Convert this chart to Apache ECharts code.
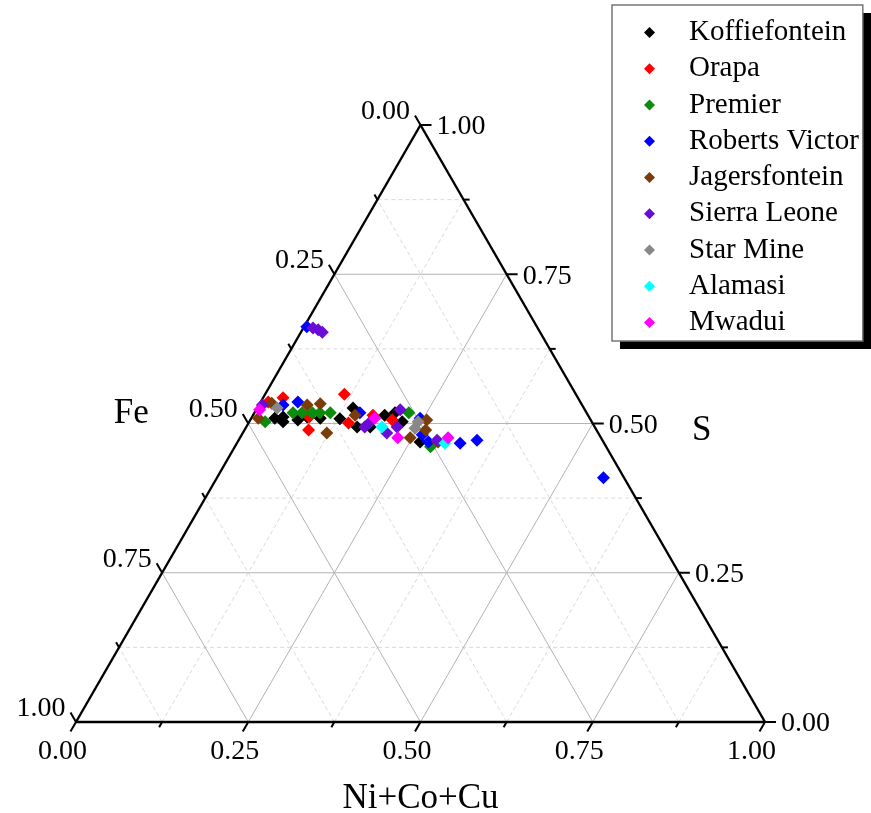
<!DOCTYPE html>
<html><head><meta charset="utf-8">
<script src="https://cdn.jsdelivr.net/npm/echarts@6/dist/echarts.min.js"></script>
<style>html,body{margin:0;padding:0;background:#fff}#c{width:871px;height:813px}</style>
</head><body><div id="c"></div>
<script>
// ---- data: each point is [Ni+Co+Cu, S]; Fe = 1 - Ni - S ----
const seriesNames = ['Koffiefontein','Orapa','Premier','Roberts Victor','Jagersfontein','Sierra Leone','Star Mine','Alamasi','Mwadui'];
const seriesColors = ['#000000','#ff0000','#0c8c0c','#0000ff','#7a3d0a','#6a0cd6','#888888','#00ffff','#ff00ff'];
const koffiefontein = [[0.034,0.509],[0.045,0.511],[0.049,0.503],[0.069,0.506],[0.080,0.511],[0.100,0.509],[0.129,0.508],[0.139,0.526],[0.161,0.494],[0.180,0.494],[0.191,0.514],[0.204,0.518],[0.222,0.503],[0.265,0.469]];
const orapa = [[0.011,0.536],[0.029,0.543],[0.083,0.511],[0.093,0.489],[0.115,0.549],[0.145,0.501],[0.174,0.514],[0.206,0.506]];
const premier = [[0.023,0.503],[0.056,0.518],[0.069,0.518],[0.084,0.518],[0.095,0.518],[0.110,0.518],[0.224,0.518],[0.284,0.461]];
const robertsVictor = [[0.004,0.662],[0.035,0.531],[0.054,0.536],[0.153,0.518],[0.245,0.509],[0.262,0.481],[0.277,0.469],[0.324,0.467],[0.346,0.472],[0.561,0.409]];
const jagersfontein = [[0.010,0.509],[0.017,0.534],[0.070,0.531],[0.088,0.533],[0.122,0.484],[0.148,0.514],[0.247,0.476],[0.256,0.506],[0.263,0.489],[0.291,0.469]];
const sierraLeone = [[0.014,0.660],[0.023,0.657],[0.031,0.653],[0.005,0.531],[0.172,0.494],[0.175,0.501],[0.209,0.484],[0.209,0.523],[0.219,0.494],[0.288,0.472]];
const starMine = [[0.029,0.526],[0.245,0.503],[0.246,0.492]];
const alamasi = [[0.197,0.494],[0.302,0.467]];
const mwadui = [[0.005,0.523],[0.179,0.509],[0.229,0.476],[0.302,0.476]];
const seriesData = [koffiefontein, orapa, premier, robertsVictor, jagersfontein, sierraLeone, starMine, alamasi, mwadui];

const tickValues = [0, 0.25, 0.5, 0.75, 1];
const tickLabels = ['0.00','0.25','0.50','0.75','1.00'];
const minorValues = [0.125, 0.375, 0.625, 0.875];
const axisTitles = { bottom: 'Ni+Co+Cu', left: 'Fe', right: 'S' };

// ---- ternary -> cartesian ----
const SQ = Math.sqrt(3) / 2;
function tern(ni, s) { return [ni + s / 2, s * SQ]; }

const FONT = '"Liberation Serif", "Times New Roman", serif';

function renderFrame(params, api) {
  const P = (ni, s) => api.coord(tern(ni, s));
  const children = [];
  const line = (a, b, style) => children.push({ type: 'line', shape: { x1: a[0], y1: a[1], x2: b[0], y2: b[1] }, style: style });
  const text = (t, x, y, size, align, vAlign) => children.push({ type: 'text', style: { text: t, x: x, y: y, fontSize: size, fontFamily: FONT, fill: '#000', align: align, verticalAlign: vAlign } });
  const minorStyle = { stroke: '#dadada', lineWidth: 1, lineDash: [4, 3] };
  const majorStyle = { stroke: '#b4b4b4', lineWidth: 1 };
  minorValues.forEach(v => {
    line(P(0, v), P(1 - v, v), minorStyle);
    line(P(v, 0), P(v, 1 - v), minorStyle);
    line(P(1 - v, 0), P(0, 1 - v), minorStyle);
  });
  tickValues.slice(1, 4).forEach(v => {
    line(P(0, v), P(1 - v, v), majorStyle);
    line(P(v, 0), P(v, 1 - v), majorStyle);
    line(P(1 - v, 0), P(0, 1 - v), majorStyle);
  });
  const edge = { stroke: '#000', lineWidth: 2.4 };
  line(P(0, 0), P(1, 0), edge);
  line(P(1, 0), P(0, 1), edge);
  line(P(0, 1), P(0, 0), edge);
  const tickStyle = { stroke: '#000', lineWidth: 2 };
  const doTicks = (vals, len, withLabels) => {
    vals.forEach((v, i) => {
      // bottom (Ni+Co+Cu)
      let p = P(v, 0), e = [p[0] - 0.5 * len, p[1] + SQ * len];
      line(p, e, tickStyle);
      if (withLabels) text(tickLabels[i], e[0] - 8, e[1] + 6, 28, 'center', 'top');
      // right (S)
      p = P(1 - v, v); e = [p[0] + len, p[1]];
      line(p, e, tickStyle);
      if (withLabels) text(tickLabels[i], e[0] + 5, e[1] + 2, 28, 'left', 'middle');
      // left (Fe)
      p = P(0, 1 - v); e = [p[0] - 0.5 * len, p[1] - SQ * len];
      line(p, e, tickStyle);
      if (withLabels) text(tickLabels[i], e[0] - 5, e[1] - 4, 28, 'right', 'middle');
    });
  };
  doTicks(minorValues, 6, false);
  doTicks(tickValues, 11, true);
  let m = P(0, 0.5);
  text(axisTitles.left, m[0] - 117, m[1] - 10, 35, 'center', 'middle');
  m = P(0.5, 0.5);
  text(axisTitles.right, m[0] + 109, m[1] + 7, 35, 'center', 'middle');
  m = P(0.5, 0);
  text(axisTitles.bottom, m[0], m[1] + 77, 35, 'center', 'middle');
  return { type: 'group', children: children };
}

const chart = echarts.init(document.getElementById('c'), null, { renderer: 'canvas' });
const series = [{
  type: 'custom', name: 'frame', coordinateSystem: 'cartesian2d', silent: true, z: 1,
  data: [[0, 0]], renderItem: renderFrame, clip: false
}];
seriesNames.forEach((name, i) => {
  series.push({
    type: 'scatter', name: name, symbol: 'diamond', symbolSize: 13, z: 5,
    itemStyle: { color: seriesColors[i], opacity: 1 },
    data: seriesData[i].map(d => tern(d[0], d[1]))
  });
});

chart.setOption({
  animation: false,
  backgroundColor: '#fff',
  grid: { left: 76, right: 106, top: 125, bottom: 91 },
  xAxis: { type: 'value', min: 0, max: 1, show: false },
  yAxis: { type: 'value', min: 0, max: SQ, show: false },
  graphic: [{
    type: 'rect', left: 620, top: 13, z: 0, silent: true,
    shape: { width: 251, height: 336 }, style: { fill: '#000' }
  }],
  legend: {
    data: seriesNames, orient: 'vertical', left: 612, top: 5, z: 10,
    padding: [13, 4, 4, 32], itemGap: 7.25, itemWidth: 11, itemHeight: 11, icon: 'diamond',
    backgroundColor: '#fff', borderColor: '#777', borderWidth: 1.5,
    textStyle: { fontFamily: FONT, fontSize: 29, color: '#000', lineHeight: 29, padding: [0, 0, 0, 29] }
  },
  series: series
});
</script></body></html>
